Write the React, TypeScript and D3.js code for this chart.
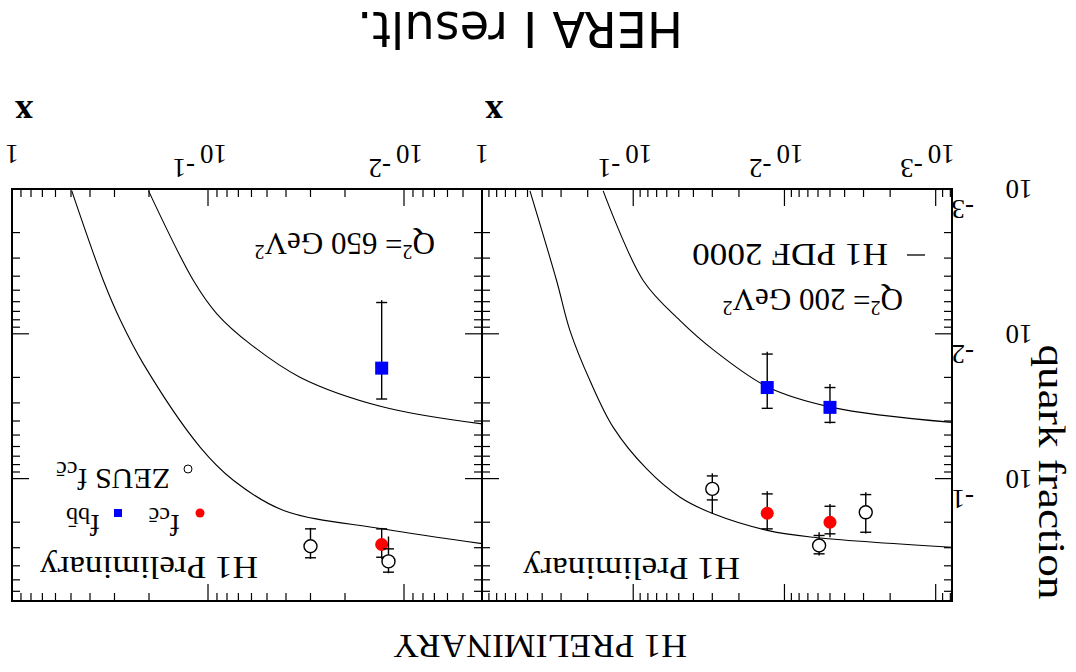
import React from 'react';
import * as d3 from 'd3';

const W = 1076;
const H = 672;

// ---------- Data: Q^2 = 200 GeV^2 ----------
const bb200X = [0.013, 0.005];
const bb200Y = [0.0235, 0.0322];
const bb200StatLo = [0.0138, 0.0235];
const bb200StatHi = [0.0327, 0.0409];
const bb200TotLo = [0.0133, 0.0222];
const bb200TotHi = [0.033, 0.0416];

const cc200X = [0.013, 0.005];
const cc200Y = [0.1735, 0.2001];
const cc200StatLo = [0.1275, 0.1552];
const cc200StatHi = [0.2223, 0.2406];
const cc200TotLo = [0.1224, 0.1495];
const cc200TotHi = [0.2285, 0.254];

const zeus200X = [0.03, 0.0059, 0.0029];
const zeus200Y = [0.1178, 0.2897, 0.1708];
const zeus200StatLo = [0.0958, 0.247, 0.1289];
const zeus200StatHi = [0.1403, 0.3306, 0.2346];
const zeus200TotLo = [0.0919, 0.2346, 0.1243];
const zeus200TotHi = [0.175, 0.34, 0.2394];

// H1 PDF 2000 curves, Q^2 = 200
const pdfCc200X = [0.00078, 0.00644, 0.01277, 0.0295, 0.049, 0.0814, 0.1355, 0.193, 0.262, 0.321, 0.482];
const pdfCc200Y = [0.298, 0.254, 0.2285, 0.175, 0.1345, 0.0858, 0.0443, 0.0211, 0.0095, 0.0043, 0.00103];
const pdfBb200X = [0.00078, 0.00486, 0.01278, 0.0295, 0.049, 0.0857, 0.158];
const pdfBb200Y = [0.0409, 0.0322, 0.0234, 0.0129, 0.0081, 0.0043, 0.00103];

// ---------- Data: Q^2 = 650 GeV^2 ----------
const bb650X = [0.013];
const bb650Y = [0.01726];
const bb650StatLo = [0.00608];
const bb650StatHi = [0.0282];
const bb650TotLo = [0.00586];
const bb650TotHi = [0.0282];

const cc650X = [0.013];
const cc650Y = [0.285];
const cc650StatLo = [0.2223];
const cc650StatHi = [0.349];
const cc650TotLo = [0.2188];
const cc650TotHi = [0.358];

const zeus650X = [0.03, 0.012];
const zeus650Y = [0.293, 0.373];
const zeus650StatLo = [0.2223, 0.3055];
const zeus650StatHi = [0.352, 0.4426];
const zeus650TotLo = [0.2188, 0.251];
const zeus650TotHi = [0.358, 0.45];

const pdfCc650X = [0.00395, 0.0129, 0.0411, 0.074, 0.1095, 0.2133, 0.2806, 0.3415, 0.4955];
const pdfCc650Y = [0.282, 0.222, 0.166, 0.103, 0.0608, 0.0162, 0.0080, 0.0043, 0.00103];
const pdfBb650X = [0.00395, 0.0129, 0.0338, 0.0608, 0.0899, 0.1185, 0.201];
const pdfBb650Y = [0.042, 0.0319, 0.02, 0.01178, 0.0073, 0.0043, 0.00103];

// ---------- Axes ----------
const yDomain = [0.001, 0.7];
const x200Domain = [0.00078, 1];
const x650Domain = [0.004, 1];
const yTickLabelExp = ['-3', '-2', '-1'];

const SERIF = "'Liberation Serif','Times New Roman','DejaVu Serif',serif";
const SANS = "'DejaVu Sans','Liberation Sans',sans-serif";

const PT = 71;
const PB = 483;
const TICKFONT = 27;

type Series = {
  x: number[]; y: number[]; sLo: number[]; sHi: number[]; tLo: number[]; tHi: number[];
  kind: 'square' | 'dot' | 'open';
};

function isMajor(v: number) {
  const l = Math.log10(v);
  return Math.abs(l - Math.round(l)) < 1e-9;
}

function Panel(props: {
  id: string; x0: number; x1: number; domain: number[];
  curves: [number[], number[]][]; series: Series[]; yLabels: boolean;
}) {
  const { id, x0, x1, domain, curves, series, yLabels } = props;
  const xs = d3.scaleLog().domain(domain).range([x0, x1]);
  const ys = d3.scaleLog().domain(yDomain).range([PB, PT]);
  const xt = xs.ticks();
  const yt = ys.ticks();
  const line = d3.line<[number, number]>()
    .x(d => xs(d[0]))
    .y(d => ys(d[1]))
    .curve(d3.curveCatmullRom.alpha(0.5));
  const MAJ = 17, MIN = 8;
  return (
    <g>
      <defs>
        <clipPath id={id}>
          <rect x={x0} y={PT} width={x1 - x0} height={PB - PT} />
        </clipPath>
      </defs>
      {xt.map((v, i) => {
        const L = isMajor(v) ? MAJ : MIN;
        const X = xs(v);
        return (
          <g key={'xt' + i} stroke="#000" strokeWidth={1.2}>
            <line x1={X} x2={X} y1={PB} y2={PB - L} />
            <line x1={X} x2={X} y1={PT} y2={PT + L} />
          </g>
        );
      })}
      {yt.map((v, i) => {
        const L = isMajor(v) ? MAJ : MIN;
        const Y = ys(v);
        return (
          <g key={'yt' + i} stroke="#000" strokeWidth={1.2}>
            <line x1={x0} x2={x0 + L} y1={Y} y2={Y} />
            <line x1={x1} x2={x1 - L} y1={Y} y2={Y} />
          </g>
        );
      })}
      {xt.filter(isMajor).map((v, i) => {
        const X = xs(v);
        if (Math.abs(v - 1) < 1e-9) {
          return (
            <text key={'xl' + i} x={X} y={527} textAnchor="middle" fontFamily={SERIF} fontSize={TICKFONT}>1</text>
          );
        }
        const e = Math.round(Math.log10(v));
        return (
          <g key={'xl' + i} fontFamily={SERIF} fontSize={TICKFONT}>
            <text x={X + 8} y={527} textAnchor="end">10</text>
            <text x={X + 13} y={513} textAnchor="start">{'-' + Math.abs(e)}</text>
          </g>
        );
      })}
      {yLabels && yt.filter(isMajor).map((v, i) => {
        const Y = ys(v);
        return (
          <g key={'yl' + i} fontFamily={SERIF} fontSize={TICKFONT}>
            <text x={57} y={Y + 9} textAnchor="middle">10</text>
            <text x={102} y={Y - 11} textAnchor="start">{yTickLabelExp[i]}</text>
          </g>
        );
      })}
      <g clipPath={`url(#${id})`} fill="none" stroke="#000" strokeWidth={1.1}>
        {curves.map((c, i) => (
          <path key={'c' + i} d={line(c[0].map((x, j) => [x, c[1][j]] as [number, number])) || ''} />
        ))}
      </g>
      {series.map((s, si) => (
        <g key={'s' + si}>
          {s.x.map((xv, j) => {
            const X = xs(xv);
            const Y = ys(s.y[j]);
            return (
              <g key={j}>
                <g stroke="#000" strokeWidth={1.4}>
                  <line x1={X} x2={X} y1={ys(s.tLo[j])} y2={ys(s.tHi[j])} />
                  <line x1={X - 5.5} x2={X + 5.5} y1={ys(s.sLo[j])} y2={ys(s.sLo[j])} />
                  <line x1={X - 5.5} x2={X + 5.5} y1={ys(s.sHi[j])} y2={ys(s.sHi[j])} />
                </g>
                {s.kind === 'square' && <rect x={X - 6.5} y={Y - 6.5} width={13} height={13} fill="#0000ff" />}
                {s.kind === 'dot' && <circle cx={X} cy={Y} r={6.5} fill="#ff0000" />}
                {s.kind === 'open' && <circle cx={X} cy={Y} r={6.5} fill="#fff" stroke="#000" strokeWidth={1.4} />}
              </g>
            );
          })}
        </g>
      ))}
      <rect x={x0} y={PT} width={x1 - x0} height={PB - PT} fill="none" stroke="#000" strokeWidth={2} />
    </g>
  );
}

export default function App() {
  const s200: Series[] = [
    { x: bb200X, y: bb200Y, sLo: bb200StatLo, sHi: bb200StatHi, tLo: bb200TotLo, tHi: bb200TotHi, kind: 'square' },
    { x: cc200X, y: cc200Y, sLo: cc200StatLo, sHi: cc200StatHi, tLo: cc200TotLo, tHi: cc200TotHi, kind: 'dot' },
    { x: zeus200X, y: zeus200Y, sLo: zeus200StatLo, sHi: zeus200StatHi, tLo: zeus200TotLo, tHi: zeus200TotHi, kind: 'open' },
  ];
  const s650: Series[] = [
    { x: bb650X, y: bb650Y, sLo: bb650StatLo, sHi: bb650StatHi, tLo: bb650TotLo, tHi: bb650TotHi, kind: 'square' },
    { x: cc650X, y: cc650Y, sLo: cc650StatLo, sHi: cc650StatHi, tLo: cc650TotLo, tHi: cc650TotHi, kind: 'dot' },
    { x: zeus650X, y: zeus650Y, sLo: zeus650StatLo, sHi: zeus650StatHi, tLo: zeus650TotLo, tHi: zeus650TotHi, kind: 'open' },
  ];
  return (
    <svg width={W} height={H} viewBox={`0 0 ${W} ${H}`}
      style={{ position: 'absolute', left: 0, top: 0, background: '#fff' }}>
      <rect x={0} y={0} width={W} height={H} fill="#fff" />
      <g transform={`rotate(180 ${W / 2} ${H / 2})`}>
        <text x={536} y={37} textAnchor="middle" fontFamily={SERIF} fontSize={33} textLength={294} lengthAdjust="spacingAndGlyphs">H1 PRELIMINARY</text>
        <text x={556} y={660} textAnchor="middle" fontFamily={SANS} fontSize={50} textLength={326} lengthAdjust="spacingAndGlyphs">HERA I result.</text>
        <text transform="translate(37,200) rotate(-90)" textAnchor="middle" fontFamily={SERIF} fontSize={38} textLength={255} lengthAdjust="spacingAndGlyphs">quark fraction</text>

        <Panel id="clipA" x0={124} x1={594} domain={x200Domain}
          curves={[[pdfCc200X, pdfCc200Y], [pdfBb200X, pdfBb200Y]]} series={s200} yLabels={true} />
        <Panel id="clipB" x0={594} x1={1064} domain={x650Domain}
          curves={[[pdfCc650X, pdfCc650Y], [pdfBb650X, pdfBb650Y]]} series={s650} yLabels={false} />

        <text x={582} y={571} textAnchor="middle" fontFamily={SERIF} fontWeight="bold" fontSize={36}>x</text>
        <text x={1052} y={571} textAnchor="middle" fontFamily={SERIF} fontWeight="bold" fontSize={36}>x</text>

        <text x={336} y={114} fontFamily={SERIF} fontSize={31} textLength={217} lengthAdjust="spacingAndGlyphs">H1 Preliminary</text>
        <text x={173} y={383} fontFamily={SERIF} fontSize={31}>Q<tspan dy={-12} fontSize={20}>2</tspan><tspan dy={12}>= 200 GeV</tspan><tspan dy={-12} fontSize={20}>2</tspan></text>
        <line x1={151} x2={169} y1={417} y2={417} stroke="#000" strokeWidth={1.3} />
        <text x={188} y={428} fontFamily={SERIF} fontSize={31} textLength={196} lengthAdjust="spacingAndGlyphs">H1 PDF 2000</text>

        <text x={818} y={115} fontFamily={SERIF} fontSize={31} textLength={218} lengthAdjust="spacingAndGlyphs">H1 Preliminary</text>
        <text x={641} y={439} fontFamily={SERIF} fontSize={31}>Q<tspan dy={-12} fontSize={20}>2</tspan><tspan dy={12}>= 650 GeV</tspan><tspan dy={-12} fontSize={20}>2</tspan></text>

        <circle cx={876} cy={159} r={4.5} fill="#ff0000" />
        <text x={896} y={157} fontFamily={SERIF} fontSize={30}>f<tspan dy={7} fontSize={24}>c{'c\u0304'}</tspan></text>
        <rect x={954} y={155} width={8} height={8} fill="#0000ff" />
        <text x={976} y={157} fontFamily={SERIF} fontSize={30}>f<tspan dy={7} fontSize={24}>b{'b\u0304'}</tspan></text>
        <circle cx={888} cy={203} r={4} fill="#fff" stroke="#000" strokeWidth={1} />
        <text x={906} y={203} fontFamily={SERIF} fontSize={30}>ZEUS f<tspan dy={7} fontSize={24}>c{'c\u0304'}</tspan></text>
      </g>
    </svg>
  );
}
